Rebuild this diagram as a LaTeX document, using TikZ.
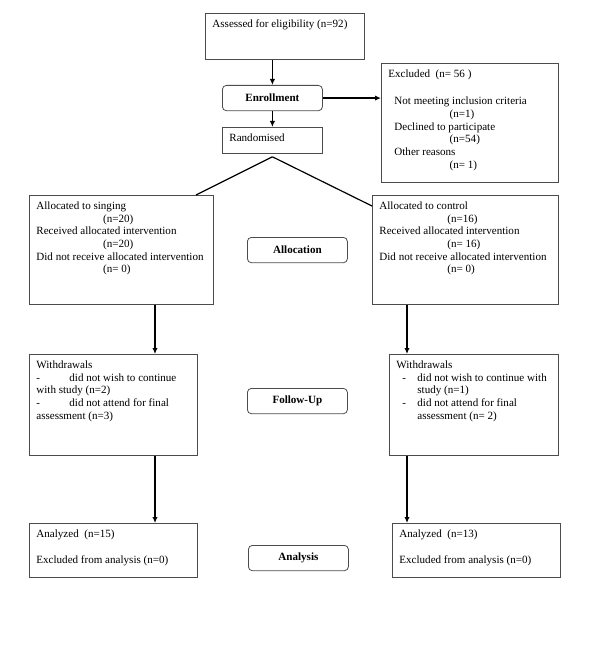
\documentclass[tikz,border=0pt]{standalone}
\usepackage{fontspec}
\setmainfont{Liberation Serif}
\usepackage{tikz}
\usetikzlibrary{calc,arrows.meta}

\definecolor{boxline}{gray}{0.3}
% top-left text in a box of given size (pixels)
\newcommand{\cellbox}[3]{\parbox[t][\dimexpr0.75pt*#2\relax][t]{\dimexpr0.75pt*#1\relax}{\leftskip=5.25pt\rightskip=0pt plus 1fil\rule{0pt}{10.5pt}#3}}

\begin{document}
\begin{tikzpicture}[x=0.75pt,y=-0.75pt,
  box/.style={draw=boxline, line width=0.6pt, anchor=north west, inner sep=0pt,
    font=\fontsize{8.3}{9.5}\selectfont},
  stage/.style={draw=boxline, line width=0.6pt, rounded corners=3pt, anchor=north west,
    minimum width=75pt, minimum height=19pt, inner sep=0pt,
    font=\fontsize{8.3}{9.5}\selectfont\bfseries},
  arr/.style={-{Latex[length=4.5pt,width=4pt]}, line width=0.9pt},
  split/.style={line width=0.9pt}]
  \useasboundingbox (0,0) rectangle (600,656);

  % enrollment
  \node[box] (assess) at (205,13) {\cellbox{159}{46}{Assessed for eligibility (n=92)}};
  \node[stage] (enrol) at (222,85) {Enrollment};
  \node[box] (rand) at (222,127) {\cellbox{100}{26}{Randomised}};
  \node[box] (excl) at (381,63) {\cellbox{177}{119}{Excluded~~(n=~56~)\\[11pt]
    \hspace*{4.5pt}Not meeting inclusion criteria\\ \hspace*{46pt}(n=1)\\
    \hspace*{4.5pt}Declined to participate\\ \hspace*{46pt}(n=54)\\
    \hspace*{4.5pt}Other reasons\\ \hspace*{46pt}(n=~1)}};

  % allocation
  \node[box] (singing) at (29,195) {\cellbox{184}{109}{Allocated to singing\\
    \hspace*{50pt}(n=20)\\ Received allocated intervention\\ \hspace*{50pt}(n=20)\\
    Did not receive allocated intervention\\ \hspace*{50pt}(n=~0)}};
  \node[box] (control) at (372,195) {\cellbox{186}{109}{Allocated to control\\
    \hspace*{51pt}(n=16)\\ Received allocated intervention\\ \hspace*{51pt}(n=~16)\\
    Did not receive allocated intervention\\ \hspace*{51pt}(n=~0)}};
  \node[stage] (alloc) at (247,237) {Allocation};

  % follow-up
  \node[box] (wdL) at (29,354) {\cellbox{168}{101}{Withdrawals\\
    -\hspace*{22pt}did not wish to continue\\ with study (n=2)\\
    -\hspace*{22pt}did not attend for final\\ assessment (n=3)}};
  \node[box] (wdR) at (389,354) {\cellbox{169}{101}{Withdrawals\\
    \hspace*{4.5pt}-\hspace*{8.5pt}did not wish to continue with\\ \hspace*{15.75pt}study (n=1)\\
    \hspace*{4.5pt}-\hspace*{8.5pt}did not attend for final\\ \hspace*{15.75pt}assessment (n=~2)}};
  \node[stage] (follow) at (247,388) {Follow-Up};

  % analysis
  \node[box] (anL) at (29,523) {\cellbox{168}{54}{Analyzed~~(n=15)\\[10pt] Excluded from analysis (n=0)}};
  \node[box] (anR) at (392,523) {\cellbox{168}{54}{Analyzed~~(n=13)\\[10pt] Excluded from analysis (n=0)}};
  \node[stage] (analysis) at (248,545) {Analysis};

  \draw[arr] (enrol.north |- assess.south) -- (enrol.north);
  \draw[arr] (enrol.south) -- (rand.north);
  \draw[arr] (enrol.east) -- (enrol.east -| excl.west);
  \draw[split] ($(rand.south)+(0,3)$) -- ($(singing.north west)+(167,0)$);
  \draw[split] ($(rand.south)+(0,3)$) -- ($(control.north west)+(0,11)$);
  \draw[arr] ($(singing.south west)+(126,0)$) coordinate (sL) -- (sL |- wdL.north);
  \draw[arr] ($(wdL.south west)+(126,0)$) coordinate (wL) -- (wL |- anL.north);
  \draw[arr] ($(control.south west)+(35,0)$) coordinate (cR) -- (cR |- wdR.north);
  \draw[arr] ($(wdR.south west)+(18,0)$) coordinate (wR) -- (wR |- anR.north);
\end{tikzpicture}
\end{document}
